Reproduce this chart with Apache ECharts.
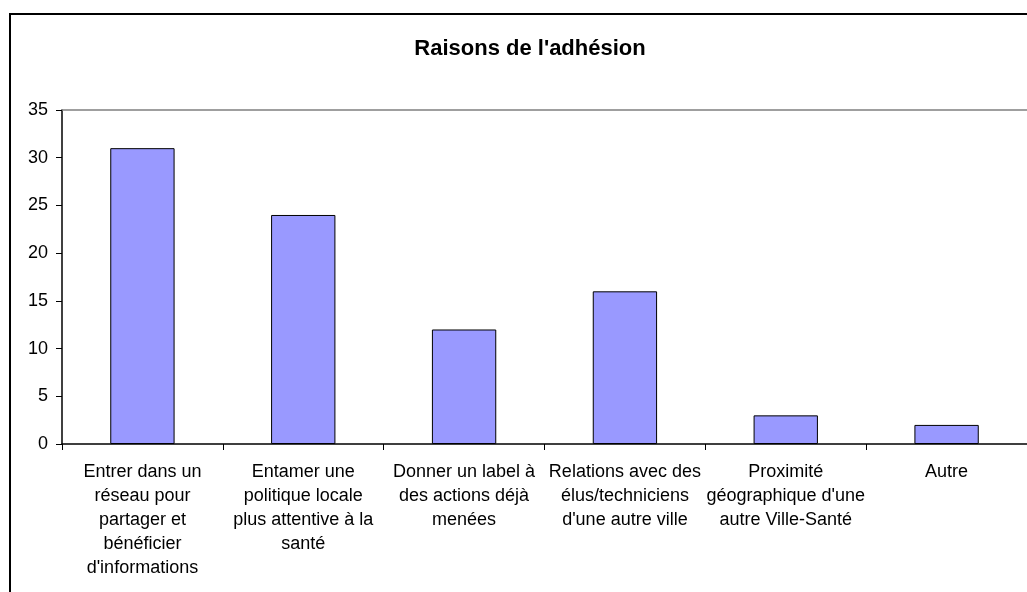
<!DOCTYPE html>
<html>
<head>
<meta charset="utf-8">
<script src="https://cdn.jsdelivr.net/npm/echarts@6/dist/echarts.min.js"></script>
<style>
  html, body { margin: 0; padding: 0; background: #fff; }
  #chart { width: 1027px; height: 592px; }
</style>
</head>
<body>
<div id="chart"></div>
<script>
// categories (line breaks as in the original)
const categories = [
  "Entrer dans un\nréseau pour\npartager et\nbénéficier\nd'informations",
  "Entamer une\npolitique locale\nplus attentive à la\nsanté",
  "Donner un label à\ndes actions déjà\nmenées",
  "Relations avec des\nélus/techniciens\nd'une autre ville",
  "Proximité\ngéographique d'une\nautre Ville-Santé",
  "Autre"
]
const values = [31, 24, 12, 16, 3, 2]
const yTicks = { min: 0, max: 35, interval: 5 }

const font = 'Liberation Sans, Arial, sans-serif'
let chart = echarts.init(document.getElementById('chart'))
chart.setOption({
  animation: false,
  title: {
    text: "Raisons de l'adhésion",
    left: 525,
    textAlign: 'center',
    top: 33,
    textStyle: { fontFamily: font, fontSize: 22, fontWeight: 'bold', color: '#000' }
  },
  graphic: [{
    type: 'rect',
    shape: { x: 10, y: 14, width: 1040, height: 620 },
    style: { fill: 'none', stroke: '#000', lineWidth: 2 },
    silent: true
  }],
  grid: { left: 62, top: 110, width: 969, height: 334 },
  xAxis: [{
    type: 'category',
    data: categories,
    axisLine: { lineStyle: { color: '#000', width: 1.5 } },
    axisTick: { show: true, length: 6, lineStyle: { color: '#000' } },
    axisLabel: {
      interval: 0,
      margin: 16,
      fontFamily: font,
      fontSize: 18,
      lineHeight: 24,
      color: '#000',
      align: 'center'
    }
  }, {
    type: 'category',
    position: 'top',
    data: categories,
    axisLine: { lineStyle: { color: '#808080', width: 1.5 } },
    axisTick: { show: false },
    axisLabel: { show: false }
  }],
  yAxis: {
    type: 'value',
    min: yTicks.min,
    max: yTicks.max,
    interval: yTicks.interval,
    axisLine: { show: true, lineStyle: { color: '#000', width: 1.5 } },
    axisTick: { show: true, length: 6, lineStyle: { color: '#000' } },
    splitLine: { show: false },
    axisLabel: { margin: 14, fontFamily: font, fontSize: 18, color: '#000' }
  },
  series: [{
    type: 'bar',
    data: values,
    barWidth: '40%',
    itemStyle: { color: '#9999FF', borderColor: '#000', borderWidth: 1 }
  }]
})
</script>
</body>
</html>
